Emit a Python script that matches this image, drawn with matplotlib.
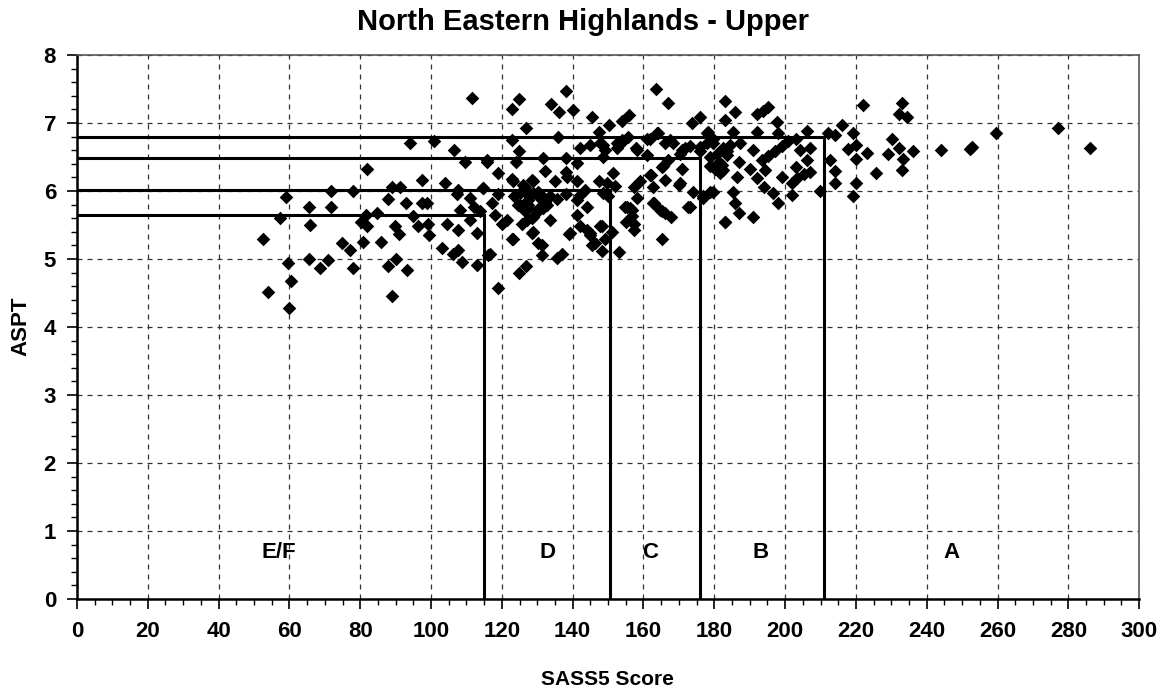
import matplotlib.pyplot as plt
from matplotlib.ticker import MultipleLocator

plt.rcParams["font.family"] = ["Liberation Sans", "DejaVu Sans"]
plt.rcParams["font.weight"] = "bold"

# SASS5 score / ASPT pairs
sass5 = [
    111.7, 94.1, 100.9, 106.6, 109.6, 115.7, 81.8, 97.4, 104.0, 71.8,
    78.1, 88.9, 91.1, 107.7, 114.6, 59.0, 65.6, 71.7, 87.9, 92.9,
    97.4, 99.0, 107.2, 111.0, 112.0, 108.2, 113.8, 57.3, 81.6, 84.8,
    80.1, 82.0, 95.0, 96.2, 99.1, 99.4, 104.4, 65.8, 89.8, 91.0,
    107.7, 111.0, 112.9, 52.6, 74.8, 77.1, 80.9, 86.0, 103.0, 106.3,
    107.7, 108.7, 112.9, 116.2, 59.5, 65.6, 68.6, 70.8, 78.1, 87.9,
    90.0, 93.1, 60.5, 54.0, 88.9, 60.0,
    138.1, 124.9, 122.8, 133.9, 136.2, 140.2, 126.8, 145.4, 150.3, 153.8,
    156.0, 163.5, 166.8, 183.1, 173.8, 176.0, 178.3, 122.8, 135.8, 147.3,
    142.1, 145.0, 147.7, 149.2, 148.7, 152.4, 154.3, 155.7, 157.8, 160.9,
    163.9, 160.9, 165.2, 166.8, 168.3, 170.8, 173.0, 176.0, 179.7, 178.8,
    181.2, 183.5, 181.6, 124.9, 124.0, 131.7, 138.1, 115.7, 119.0, 132.1,
    138.1, 138.5, 141.2, 123.0, 128.6, 135.0, 141.2, 147.3, 152.0, 114.6,
    119.0, 126.6, 130.3, 143.5, 142.1, 141.2, 138.1, 135.5, 148.7, 150.1,
    157.2, 159.0, 162.1, 158.1, 156.2, 170.3, 174.1, 173.0, 163.0, 165.2,
    167.9, 165.2, 176.9, 179.7, 183.1,
    118.1, 120.0, 121.4, 123.3, 125.1, 127.5, 128.9, 126.6, 125.6, 127.0,
    128.9, 130.8, 132.2, 133.6, 133.6, 128.4, 122.8, 130.3, 131.2, 135.5,
    136.9, 139.3, 141.2, 142.1, 144.0, 144.9, 145.4, 148.2, 149.2, 148.2,
    151.0, 153.2, 124.9, 126.8, 119.0, 116.7, 155.3, 156.7, 157.2, 155.0,
    117.1,
    185.9, 183.1, 192.0, 195.3, 193.7, 197.8, 216.0, 221.9, 233.1, 232.2,
    234.4, 185.2, 192.0, 198.1, 206.1, 212.0, 214.0, 219.1, 230.1, 187.3,
    191.0, 183.5, 193.4, 195.3, 197.2, 199.1, 200.9, 203.0, 204.2, 207.1,
    206.1, 203.1, 207.1, 205.2, 203.5, 201.9, 201.9, 209.9, 212.7, 214.1,
    214.1, 217.9, 220.1, 220.1, 223.1, 220.1, 219.1, 225.7, 229.2, 232.2,
    233.2, 236.1, 233.1, 244.1, 187.1, 182.6, 186.3, 190.1, 192.0, 194.4,
    199.1, 193.9, 196.7, 185.4, 185.9, 198.1, 187.1, 190.9, 183.1,
    252.7, 252.1, 259.6, 277.0, 286.2,
    # dense diagonal runs in classes D and C
    124.7, 127.5, 130.3, 127.5, 130.3, 131.7, 132.7, 128.4, 123.7, 125.1,
    126.6, 130.8, 123.1, 126.1, 128.7, 144.0, 144.9, 147.7, 146.3, 139.1,
    131.2, 128.9, 123.1,
    148.7, 152.5, 153.8, 158.1, 161.9, 164.2, 166.1, 167.5, 170.3, 171.8,
    177.9, 176.0, 177.9, 179.7, 178.8, 180.7, 182.6, 184.5, 180.2, 182.1,
    165.6, 170.8, 161.9, 166.1, 151.5, 149.6, 162.8, 169.9, 178.8, 176.9,
    154.8, 156.7, 157.2, 162.8, 164.7, 166.1, 172.7,
]
aspt = [
    7.36, 6.71, 6.74, 6.60, 6.43, 6.43, 6.32, 6.16, 6.12, 6.00,
    6.00, 6.06, 6.06, 6.01, 6.04, 5.91, 5.77, 5.77, 5.88, 5.82,
    5.82, 5.83, 5.96, 5.89, 5.77, 5.72, 5.71, 5.60, 5.65, 5.67,
    5.55, 5.48, 5.63, 5.49, 5.51, 5.35, 5.51, 5.50, 5.48, 5.37,
    5.43, 5.57, 5.38, 5.30, 5.23, 5.13, 5.25, 5.25, 5.16, 5.08,
    5.13, 4.95, 4.91, 5.06, 4.94, 5.00, 4.87, 4.99, 4.87, 4.89,
    5.00, 4.84, 4.68, 4.51, 4.45, 4.28,
    7.47, 7.35, 7.20, 7.28, 7.16, 7.19, 6.93, 7.08, 6.97, 7.03,
    7.11, 7.50, 7.30, 7.32, 7.00, 7.08, 6.87, 6.75, 6.80, 6.86,
    6.63, 6.68, 6.70, 6.60, 6.50, 6.63, 6.73, 6.80, 6.63, 6.77,
    6.85, 6.53, 6.35, 6.46, 6.70, 6.60, 6.66, 6.58, 6.70, 6.36,
    6.43, 6.53, 6.26, 6.59, 6.43, 6.49, 6.48, 6.46, 6.27, 6.30,
    6.28, 6.20, 6.41, 6.17, 6.16, 6.15, 6.14, 6.14, 6.07, 6.04,
    5.96, 6.06, 5.99, 6.01, 5.94, 5.87, 5.95, 5.88, 5.97, 5.92,
    6.06, 6.14, 6.24, 5.89, 5.75, 6.11, 5.99, 5.77, 5.82, 5.70,
    5.61, 5.29, 5.92, 5.99, 5.55,
    5.65, 5.52, 5.57, 5.92, 5.79, 5.87, 5.97, 5.71, 5.51, 5.57,
    5.62, 5.77, 5.84, 5.92, 5.57, 5.38, 5.29, 5.23, 5.06, 5.01,
    5.08, 5.38, 5.65, 5.48, 5.77, 5.38, 5.21, 5.49, 5.30, 5.11,
    5.40, 5.10, 4.80, 4.89, 4.57, 5.08, 5.77, 5.63, 5.43, 5.55,
    5.82,
    7.16, 7.04, 7.13, 7.23, 7.18, 7.02, 6.97, 7.27, 7.29, 7.13,
    7.09, 6.87, 6.87, 6.85, 6.88, 6.85, 6.82, 6.85, 6.76, 6.70,
    6.60, 6.58, 6.46, 6.51, 6.59, 6.66, 6.73, 6.76, 6.60, 6.63,
    6.46, 6.35, 6.28, 6.25, 6.19, 6.11, 5.94, 6.00, 6.46, 6.30,
    6.11, 6.61, 6.68, 6.47, 6.56, 6.11, 5.92, 6.26, 6.55, 6.63,
    6.47, 6.59, 6.31, 6.60, 6.43, 6.31, 6.21, 6.33, 6.19, 6.31,
    6.21, 6.06, 5.97, 5.99, 5.82, 5.82, 5.67, 5.62, 5.55,
    6.64, 6.62, 6.85, 6.92, 6.63,
    5.79, 5.79, 5.92, 5.75, 5.70, 5.75, 5.79, 5.60, 5.92, 5.97,
    5.99, 5.96, 6.15, 6.09, 6.15, 5.43, 5.35, 5.48, 5.23, 5.36,
    5.21, 5.40, 5.30,
    6.68, 6.70, 6.75, 6.60, 6.77, 6.85, 6.70, 6.75, 6.55, 6.63,
    6.85, 6.65, 6.70, 6.77, 6.50, 6.55, 6.63, 6.68, 6.33, 6.38,
    6.36, 6.33, 6.24, 6.16, 6.26, 6.11, 6.06, 6.09, 5.99, 5.89,
    5.77, 5.72, 5.52, 5.82, 5.72, 5.67, 5.77,
]

# class boundaries (SASS5 score, ASPT)
band_score = [115, 150.5, 176, 211]
band_aspt = [5.64, 6.02, 6.49, 6.79]

classes = ["E/F", "D", "C", "B", "A"]
class_x = [57, 133, 162, 193, 247]

fig = plt.figure(figsize=(11.66, 6.95), dpi=100)
ax = fig.add_axes([0.066, 0.138, 0.911, 0.783])

ax.scatter(sass5, aspt, marker="D", s=48, color="black", zorder=3, linewidths=0)

for bx, by in zip(band_score, band_aspt):
    ax.plot([0, bx], [by, by], color="black", linewidth=2.2, zorder=2)
    ax.plot([bx, bx], [0, by], color="black", linewidth=2.2, zorder=2)

for lab, lx in zip(classes, class_x):
    ax.text(lx, 0.68, lab, fontsize=16, fontweight="bold", ha="center", va="center")

ax.set_xlim(0, 300)
ax.set_ylim(0, 8)
ax.xaxis.set_major_locator(MultipleLocator(20))
ax.xaxis.set_minor_locator(MultipleLocator(5))
ax.yaxis.set_major_locator(MultipleLocator(1))
ax.yaxis.set_minor_locator(MultipleLocator(0.2))
ax.tick_params(which="major", direction="out", length=7, width=1.2, labelsize=16)
ax.tick_params(which="minor", direction="out", length=4, width=1)
ax.tick_params(axis="x", pad=9)
ax.tick_params(axis="y", pad=8)
for lbl in ax.get_xticklabels() + ax.get_yticklabels():
    lbl.set_fontweight("bold")

ax.grid(True, which="major", linestyle=(0, (4, 4)), color="#333333", linewidth=0.9)
ax.set_axisbelow(True)
for side in ["left", "bottom"]:
    ax.spines[side].set_linewidth(1.8)
for side in ["top", "right"]:
    ax.spines[side].set_linewidth(1.2)
    ax.spines[side].set_color("#555555")

fig.text(0.5, 0.968, "North Eastern Highlands - Upper", fontsize=21,
         fontweight="bold", ha="center", va="center")
fig.text(0.521, 0.022, "SASS5 Score", fontsize=15, fontweight="bold",
         ha="center", va="center")
fig.text(0.018, 0.53, "ASPT", fontsize=16, fontweight="bold",
         ha="center", va="center", rotation=90)

fig.savefig("out.png", dpi=100)
